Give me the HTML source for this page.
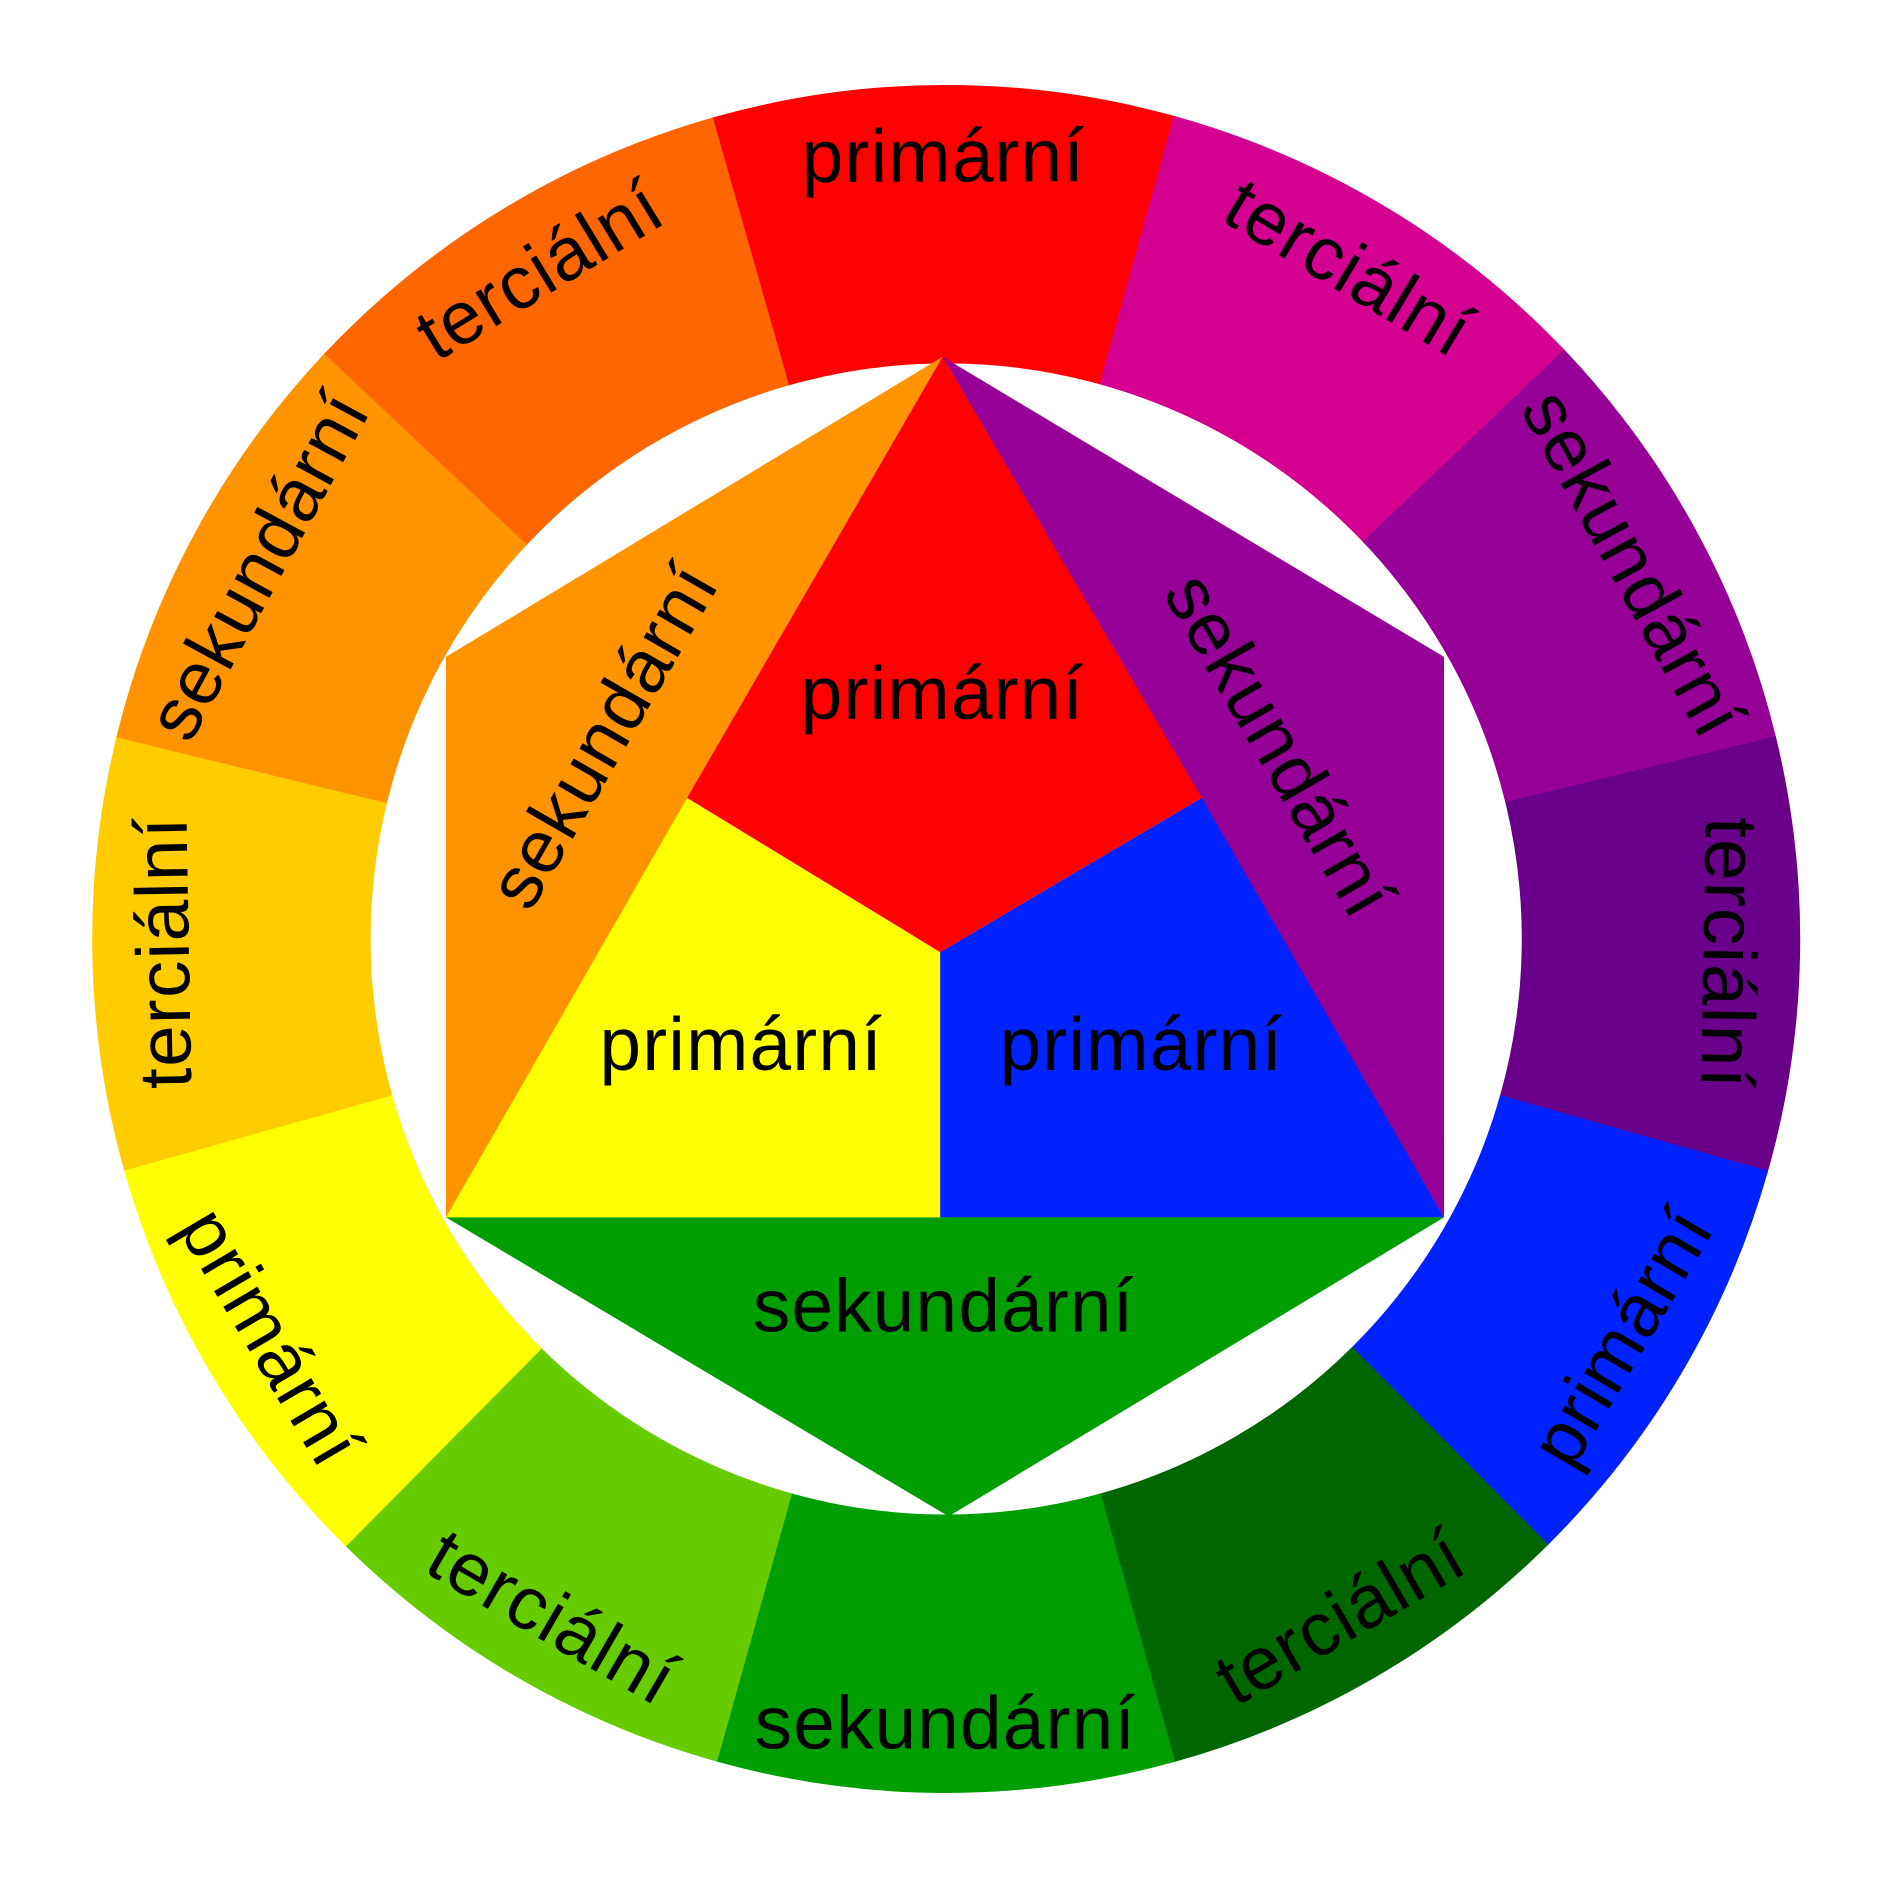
<!DOCTYPE html>
<html><head><meta charset="utf-8"><style>html,body{margin:0;padding:0;background:#fff}svg{display:block}</style></head>
<body>
<svg width="1890" height="1890" viewBox="0 0 1568 1568" xmlns="http://www.w3.org/2000/svg" font-family="Liberation Sans, sans-serif">
<g id="ring"></g>
<polygon points="370,545 782,296 370,1010" fill="#ff9400"/>
<polygon points="782,296 1198,545 1198,1010" fill="#960096"/>
<polygon points="782,296 997,662 780,790 570,662" fill="#ff0000"/>
<polygon points="570,662 780,790 780,1010 370,1010" fill="#ffff00"/>
<polygon points="780,790 997,662 1198,1010 780,1010" fill="#0022ff"/>
<polygon points="370,1010 1198,1010 787,1258" fill="#009e00"/>
<g font-size="62" text-anchor="middle" dominant-baseline="central" fill="#000" letter-spacing="1">
<text x="782" y="575">primární</text>
<text x="615" y="866">primární</text>
<text x="947" y="866">primární</text>
<text x="783" y="1083">sekundární</text>
<text transform="translate(500,610) rotate(-60)">sekundární</text>
<text transform="translate(1062,618) rotate(60)">sekundární</text>
</g>
<g id="labels" font-size="62" text-anchor="middle" dominant-baseline="central" fill="#000" letter-spacing="1"></g>
<script>
(function(){
var cx=785,cy=779,R=708,r=478,ns="http://www.w3.org/2000/svg";
var b=[-105.9,-74.5,-43.6,-13.7,15.8,45.2,74.5,105.6,134.7,164.3,193.7,223.3,254.1];
var segs=[["#ff0000","primární"],["#d4008f","terciální"],["#960096","sekundární"],["#6a008a","terciální"],["#0022ff","primární"],["#006600","terciální"],["#009e00","sekundární"],["#66cc00","terciální"],["#ffff00","primární"],["#ffcc00","terciální"],["#ff9400","sekundární"],["#ff6600","terciální"]];
var mids=[-90,-60,-30,0,30,60,90,120,150,180,210,240];
var ring=document.getElementById("ring"),lab=document.getElementById("labels");
function p(a,rr){var t=a*Math.PI/180;return [cx+rr*Math.cos(t),cy+rr*Math.sin(t)];}
segs.forEach(function(s,i){
var a0=b[i],a1=b[i+1];
var A=p(a0,R),B=p(a1,R),C=p(a1,r),D=p(a0,r);
var path=document.createElementNS(ns,"path");
path.setAttribute("d","M"+A+" A"+R+","+R+" 0 0 1 "+B+" L"+C+" A"+r+","+r+" 0 0 0 "+D+" Z");
path.setAttribute("fill",s[0]);path.setAttribute("stroke",s[0]);path.setAttribute("stroke-width","1");
ring.appendChild(path);
var a=(a0+a1)/2;var c=p(a,650);var n=((mids[i]%360)+360)%360;
var rot=(n>0&&n<180)?a-90:a+90;
var t=document.createElementNS(ns,"text");
t.setAttribute("transform","translate("+c[0]+","+c[1]+") rotate("+rot+")");
t.textContent=s[1];lab.appendChild(t);
});
})();
</script>
</svg>
</body></html>
